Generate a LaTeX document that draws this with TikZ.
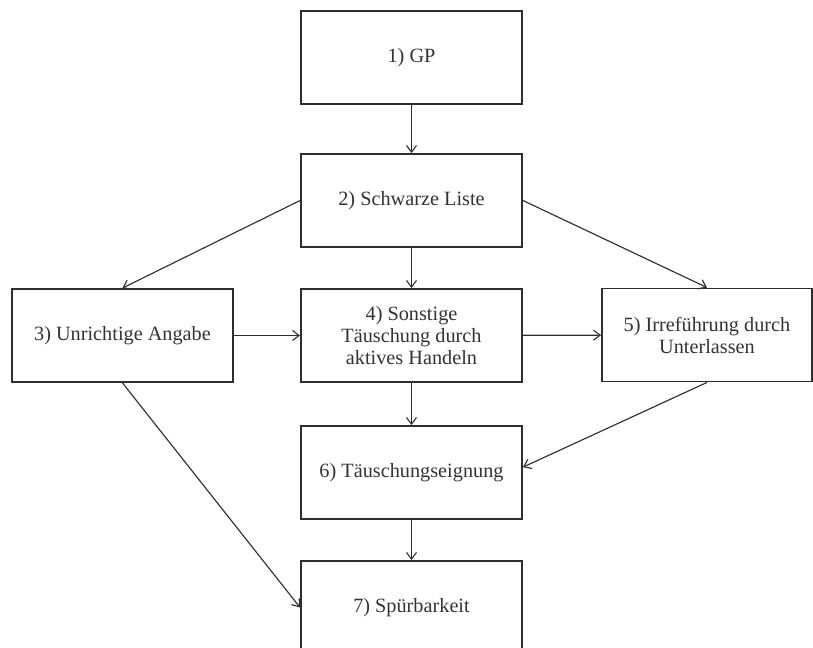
\documentclass[tikz,border=0pt]{standalone}
\usepackage{fontspec}
\setmainfont{Liberation Serif}
\usetikzlibrary{arrows.meta}
\definecolor{linegray}{HTML}{2E2E2E}
\definecolor{textgray}{HTML}{333333}
\tikzset{
  box/.style={draw=linegray, line width=1.4pt, rectangle, minimum width=165.75pt,
    minimum height=69.75pt, inner sep=2pt, align=center, text=textgray,
    font=\fontsize{15.2pt}{16.5pt}\selectfont},
  conn/.style={draw=linegray, line width=0.85pt,
    -{Straight Barb[length=5pt,width=7.5pt,line width=0.85pt]}}
}
\begin{document}
\begin{tikzpicture}[x=0.75pt,y=-0.75pt]
\useasboundingbox (0,0) rectangle (813,648);
\fill[white] (0,0) rectangle (813,648);
\clip (0,0) rectangle (813,648);
\node[box] (n1) at (411.5,57.5) {1) GP};
\node[box] (n2) at (411.5,200.5) {2) Schwarze Liste};
\node[box] (n3) at (122.5,335.5) {3) Unrichtige Angabe};
\node[box] (n4) at (411.5,335.5) {4) Sonstige\\Täuschung durch\\aktives Handeln};
\node[box, minimum width=157.5pt] (n5) at (707,335) {5) Irreführung durch\\Unterlassen};
\node[box] (n6) at (411.5,472.5) {6) Täuschungseignung};
\node[box] (n7) at (411.5,607.5) {7) Spürbarkeit};
\draw[conn] (n1) -- (n2);
\draw[conn] (n2) -- (n4);
\draw[conn] (n2.west) -- (n3.north);
\draw[conn] (n2.east) -- (n5.north);
\draw[conn] (n3) -- (n4);
\draw[conn] (n4) -- (n5);
\draw[conn] (n4) -- (n6);
\draw[conn] (n5.south) -- ([yshift=4pt]n6.east);
\draw[conn] (n6) -- (n7);
\draw[conn] (n3.south) -- (n7.west);
\end{tikzpicture}
\end{document}
